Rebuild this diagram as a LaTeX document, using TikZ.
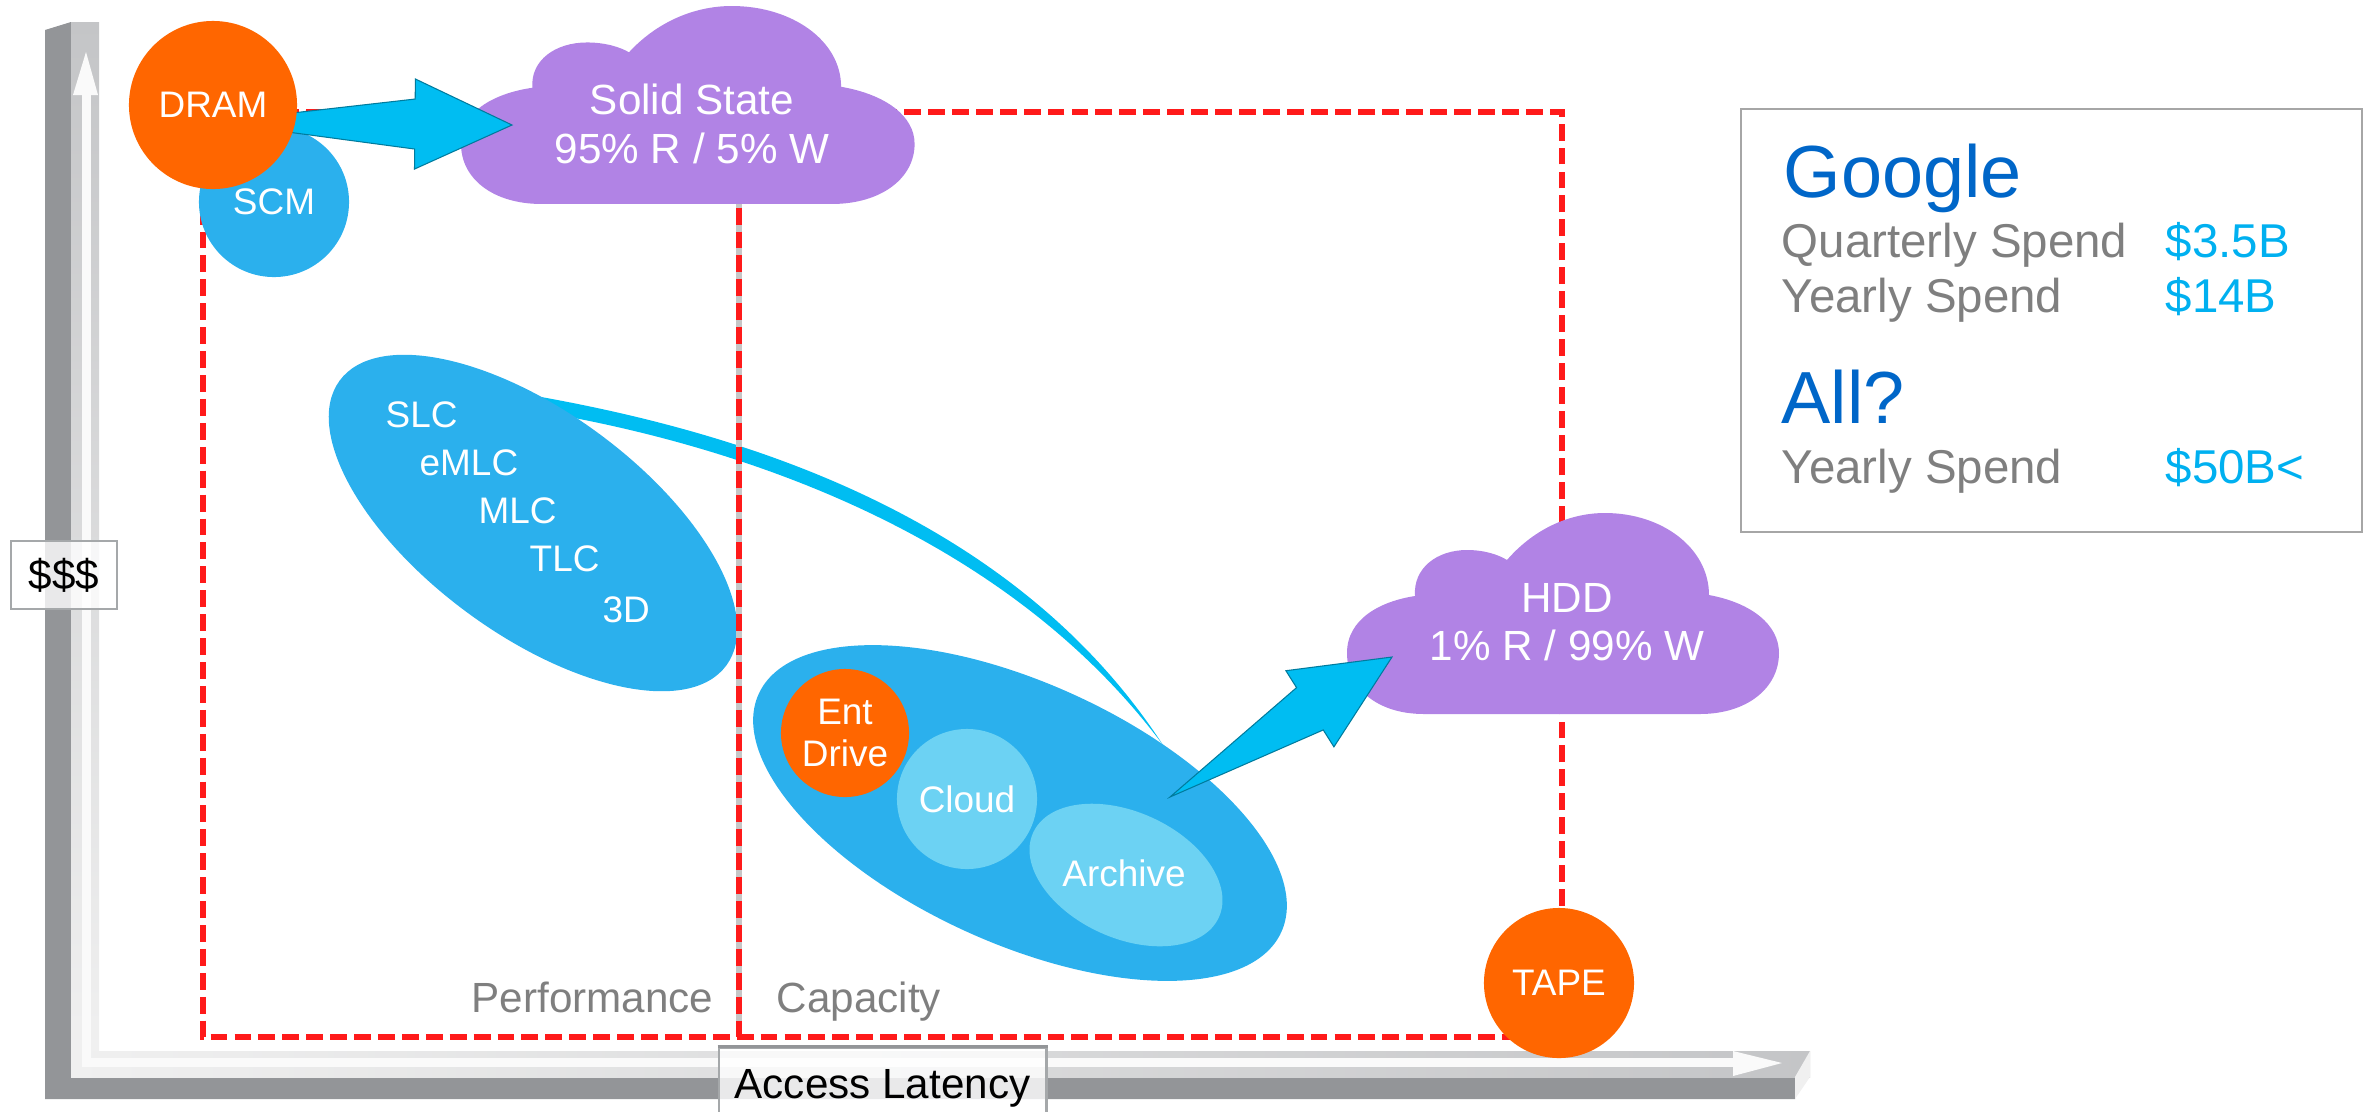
\documentclass[tikz,border=0pt]{standalone}
\usepackage{fontspec}
\setmainfont{Liberation Sans}
\usetikzlibrary{shapes,calc}

\definecolor{orng}{HTML}{FF6600}
\definecolor{flashblue}{HTML}{2BB0ED}
\definecolor{paleblue}{HTML}{6CD2F3}
\definecolor{arrowblue}{HTML}{00BDF2}
\definecolor{lilac}{HTML}{B183E5}
\definecolor{dashred}{HTML}{FF1A1A}
\definecolor{axdark}{HTML}{939598}
\definecolor{axlight}{HTML}{C4C5C7}
\definecolor{axpale}{HTML}{F0F0F0}
\definecolor{tagedge}{HTML}{A5A8AA}
\definecolor{boxgray}{HTML}{A6A6A6}
\definecolor{gblue}{HTML}{0066C8}
\definecolor{vblue}{HTML}{00B0F0}
\definecolor{txtgray}{HTML}{7F7F7F}

\newcommand{\cloudpath}{(77,-201) .. controls (30,-201) and (0,-175) .. (0,-140) .. controls (0,-105) and (35,-88) .. (68,-83) .. controls (66,-55) and (90,-37) .. (120,-37) .. controls (138,-37) and (152,-42) .. (160,-47) .. controls (185,-18) and (220,0) .. (258,0) .. controls (315,0) and (362,-35) .. (362,-82) .. controls (405,-90) and (432,-112) .. (432,-140) .. controls (432,-175) and (400,-201) .. (353,-201) -- cycle}

\newcommand{\fatarrow}[2]{%
	\coordinate (hb) at ($(#2)!0.97cm!(#1)$);
	\filldraw[blockarr] (#1) -- ($(hb)!0.25cm!90:(#2)$) -- ($(hb)!0.45cm!90:(#2)$) -- (#2) -- ($(hb)!0.45cm!-90:(#2)$) -- ($(hb)!0.25cm!-90:(#2)$) -- cycle;}

\begin{document}
\begin{tikzpicture}[x=0.01cm,y=0.01cm]
	\tikzstyle{every node}+=[inner sep=0pt]
	\tikzstyle{disc}=[circle, text=white, align=center, font=\fontsize{10.5pt}{12pt}\selectfont]
	\tikzstyle{blob}=[ellipse, fill=flashblue]
	\tikzstyle{puff}=[fill=lilac]
	\tikzstyle{pufftext}=[text=white, align=center, font=\fontsize{12pt}{13.8pt}\selectfont]
	\tikzstyle{cell}=[text=white, anchor=base west, font=\fontsize{10.5pt}{12pt}\selectfont]
	\tikzstyle{redline}=[draw=dashred, line width=1.6pt, dash pattern=on 4.8pt off 2pt]
	\tikzstyle{region}=[text=txtgray, font=\fontsize{12pt}{14pt}\selectfont]
	\tikzstyle{axtag}=[draw=tagedge, line width=0.8pt, fill=white, fill opacity=0.8, text opacity=1, font=\fontsize{12pt}{14pt}\selectfont]
	\tikzstyle{blockarr}=[fill=arrowblue, draw=arrowblue!65!black, line width=0.3pt]
	\tikzstyle{head}=[text=gblue, anchor=base west, font=\fontsize{21pt}{24pt}\selectfont]
	\tikzstyle{spend}=[text=txtgray, anchor=base west, font=\fontsize{13.5pt}{16pt}\selectfont]
	\tikzstyle{money}=[text=vblue, anchor=base west, font=\fontsize{13.5pt}{16pt}\selectfont]

	\useasboundingbox (0,0) rectangle (2371,-1111);

	% axes
	\fill[axdark] (45,-30) -- (71,-22) -- (71,-1077) -- (1795,-1077) -- (1795,-1099) -- (45,-1099) -- cycle;
	\shade[top color=axlight, bottom color=axpale] (71,-22) rectangle (99,-1051);
	\shade[left color=axpale, right color=axlight] (71,-1051) rectangle (1810,-1077);
	\fill[gray!12] (1795,-1077) -- (1810,-1051) -- (1810,-1077) -- (1795,-1099) -- cycle;
	\fill[white!96!gray] (82,-95) rectangle (91,-1067);
	\fill[white!96!gray] (82,-1058) rectangle (1733,-1067);
	\fill[white!96!gray] (73,-95) -- (86,-52) -- (98,-95) -- cycle;
	\fill[white!96!gray] (1733,-1051) -- (1782,-1063) -- (1733,-1076) -- cycle;

	% swoosh
	\coordinate (swa) at (530,-395);
	\coordinate (swb) at (1163,-745);
	\fill[arrowblue] (swa) .. controls +(200,-35) and +(-153,235) .. (swb) .. controls +(-158,212) and +(208,-34) .. ($(swa)+(0,-15)$) -- cycle;

	\node[blob, minimum width=4.8cm, minimum height=2.22cm, rotate=-36.4] (flash) at (533,-523) {};
	\node[blob, minimum width=5.74cm, minimum height=2.6cm, rotate=-24.5] (capa) at (1020,-813) {};

	\draw[redline] (203,-112) rectangle (1562,-1037);
	\draw[gray!45, line width=1.6pt] (739,-112) -- (739,-1037);
	\draw[redline] (739,-112) -- (739,-1037);

	% clouds
	\fill[puff, shift={(461,-6)}, xscale=1.05, yscale=0.985] \cloudpath;
	\node[pufftext] (ssd) at (692,-124) {Solid State\\95\% R / 5\% W};
	\fill[puff, shift={(1347,-513)}] \cloudpath;
	\node[pufftext] (hdd) at (1567,-622) {HDD\\1\% R / 99\% W};

	\node[disc, fill=orng, minimum size=1.28cm] (ent) at (845,-733) {Ent\\Drive};
	\node[disc, fill=paleblue, minimum size=1.4cm] (cld) at (967,-799) {Cloud};
	\node[ellipse, fill=paleblue, minimum width=2.04cm, minimum height=1.26cm, rotate=-24.5] (arch) at (1126,-875) {};
	\node[disc] (archtxt) at (1124,-873) {Archive};

	\node[cell] (slc) at (385,-427) {SLC};
	\node[cell] (emlc) at (419,-475) {eMLC};
	\node[cell] (mlc) at (478,-523) {MLC};
	\node[cell] (tlc) at (529,-571) {TLC};
	\node[cell] (threed) at (602,-622) {3D};

	\coordinate (captail) at (1170,-797);
	\coordinate (hddtip) at (1392,-657);
	\fatarrow{captail}{hddtip}

	\node[disc, fill=flashblue, minimum size=1.5cm] (scm) at (274,-202) {SCM};
	\coordinate (dramtail) at (213,-122);
	\coordinate (ssdtip) at (512,-125);
	\fatarrow{dramtail}{ssdtip}
	\node[disc, fill=orng, minimum size=1.68cm] (dram) at (213,-105) {DRAM};

	\node[disc, fill=orng, minimum size=1.5cm] (tape) at (1559,-983) {TAPE};

	\node[region, anchor=base east] (perf) at (714,-1012) {Performance};
	\node[region, anchor=base west] (capy) at (776,-1012) {Capacity};

	\node[axtag, minimum width=1.06cm, minimum height=0.68cm] (cost) at (64,-575) {\$\$\$};
	\node[axtag, text depth=0pt, minimum width=3.27cm, minimum height=0.72cm] (lat) at (882.5,-1084) {Access Latency};
	\draw[axdark, line width=1pt] (lat.north west) -- (lat.north east);

	% spend box
	\node[draw=boxgray, line width=0.6pt, minimum width=6.21cm, minimum height=4.23cm] (gbox) at (2051.5,-320.5) {};
	\node[head] (goog) at (1783,-197) {Google};
	\node[spend] (qtr) at (1781,-257) {Quarterly Spend};
	\node[money] (qtrval) at (2165,-257) {\$3.5B};
	\node[spend] (yr) at (1781,-312) {Yearly Spend};
	\node[money] (yrval) at (2165,-312) {\$14B};
	\node[head] (all) at (1781,-423) {All?};
	\node[spend] (allyr) at (1781,-483) {Yearly Spend};
	\node[money] (allval) at (2165,-483) {\$50B<};
\end{tikzpicture}
\end{document}
